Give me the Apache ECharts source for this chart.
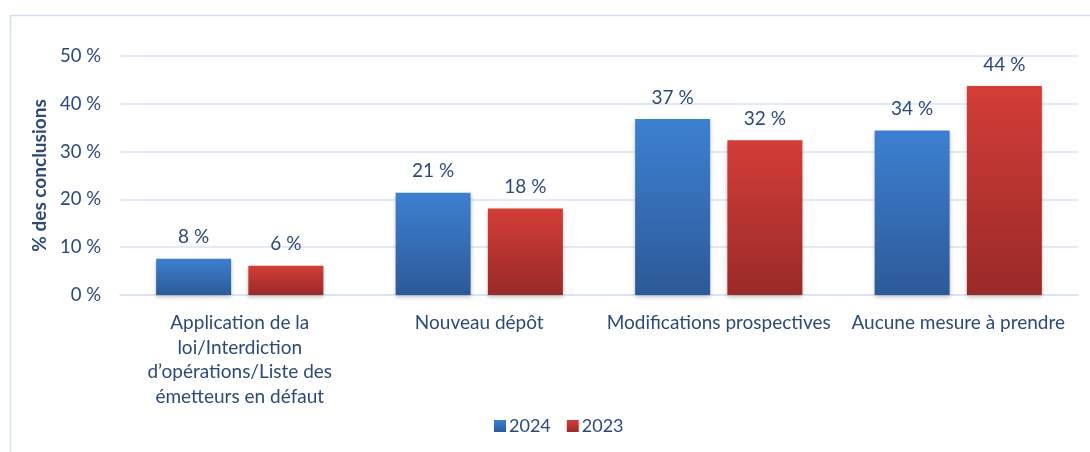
<!DOCTYPE html>
<html>
<head>
<meta charset="utf-8">
<script src="https://cdn.jsdelivr.net/npm/echarts@6/dist/echarts.min.js"></script>
<style>
  html, body { margin: 0; padding: 0; background: #fff; }
  #chart { width: 1090px; height: 452px; }
</style>
</head>
<body>
<div id="chart"></div>
<script>
// données
const categories = [
  'Application de la\nloi/Interdiction\nd\u2019opérations/Liste des\németteurs en défaut',
  'Nouveau dépôt',
  'Modifications prospectives',
  'Aucune mesure à prendre'
]
const values2024 = [7.6, 21.4, 36.8, 34.4]
const values2023 = [6.1, 18.1, 32.4, 43.7]
const seriesNames = ['2024', '2023']

const textColor = '#2B4A78'
const font = 'Lato, "Open Sans", sans-serif'

const chart = echarts.init(document.getElementById('chart'))

function grad(top, bottom) {
  return new echarts.graphic.LinearGradient(0, 0, 0, 1, [
    { offset: 0, color: top },
    { offset: 1, color: bottom }
  ])
}

const label = {
  show: true,
  position: 'top',
  distance: 12,
  color: textColor,
  fontFamily: font,
  fontSize: 19,
  formatter: (p) => Math.round(p.value) + ' %'
}

chart.setOption({
  animation: false,
  textStyle: { fontFamily: font },
  graphic: [
    {
      type: 'rect',
      shape: { x: 10.5, y: 15.5, width: 1200, height: 500 },
      style: { fill: 'none', stroke: '#D3E1F2', lineWidth: 1.5 },
      silent: true
    }
  ],
  grid: { left: 120, right: 12, top: 56, bottom: 157 },
  legend: {
    left: 489,
    top: 412,
    itemWidth: 12,
    itemHeight: 12,
    itemGap: 16,
    icon: 'rect',
    textStyle: { color: textColor, fontSize: 18, fontFamily: font, padding: [0, 0, 0, -2] },
    data: seriesNames
  },
  xAxis: {
    type: 'category',
    data: categories,
    axisTick: { show: false },
    axisLine: { lineStyle: { color: '#D9E4F2', width: 1.5 } },
    axisLabel: {
      color: textColor,
      fontSize: 19,
      fontFamily: font,
      lineHeight: 24.5,
      margin: 16,
      interval: 0
    }
  },
  yAxis: {
    type: 'value',
    min: 0,
    max: 50,
    interval: 10,
    name: '% des conclusions',
    nameLocation: 'middle',
    nameGap: 69,
    nameRotate: 90,
    nameTextStyle: { color: textColor, fontSize: 19, fontWeight: 'bold', fontFamily: font },
    axisLine: { show: false },
    axisTick: { show: false },
    splitLine: { lineStyle: { color: '#D9E4F2', width: 1.5 } },
    axisLabel: {
      color: textColor,
      fontSize: 18.5,
      fontFamily: font,
      margin: 19,
      formatter: (v) => v + ' %'
    }
  },
  series: [
    {
      name: seriesNames[0],
      type: 'bar',
      data: values2024,
      barWidth: 75,
      barGap: '23%',
      itemStyle: {
        color: grad('#3D80D0', '#2C5A98'),
        shadowColor: 'rgba(0,0,0,0.25)',
        shadowBlur: 4,
        shadowOffsetY: 2
      },
      label: label
    },
    {
      name: seriesNames[1],
      type: 'bar',
      data: values2023,
      barWidth: 75,
      barGap: '23%',
      itemStyle: {
        color: grad('#D33D38', '#992A28'),
        shadowColor: 'rgba(0,0,0,0.25)',
        shadowBlur: 4,
        shadowOffsetY: 2
      },
      label: label
    }
  ]
})
</script>
</body>
</html>
